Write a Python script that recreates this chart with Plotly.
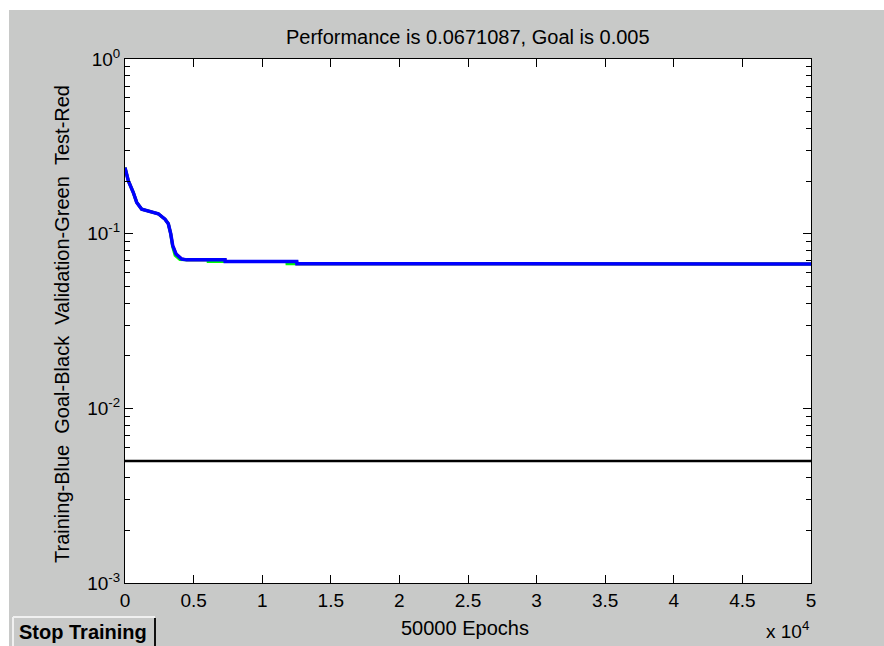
import plotly.graph_objects as go

# ---- data ----
train_epochs = [0, 240, 605, 853, 1217, 1822, 2427, 2915, 3156, 3331, 3477, 3717, 4133, 4497,
                7289, 7300, 12515, 12530, 50000]
train_perf = [0.239, 0.201, 0.172, 0.151, 0.138, 0.134, 0.130, 0.121, 0.114, 0.100, 0.0854, 0.0765,
              0.0716, 0.0708, 0.0708, 0.0692, 0.0692, 0.0672, 0.0671087]

val_epochs = [0, 240, 605, 853, 1217, 1822, 2427, 2915, 3156, 3331, 3477, 3650, 4000, 4497,
              6050, 6060, 11800, 11810, 50000]
val_perf = [0.239, 0.201, 0.172, 0.151, 0.138, 0.134, 0.130, 0.121, 0.114, 0.100, 0.0840, 0.0750,
            0.0712, 0.0708, 0.0708, 0.0692, 0.0692, 0.0672, 0.0671]

test_epochs = train_epochs
test_perf = train_perf

goal_epochs = [0, 50000]
goal_perf = [0.005, 0.005]

x_tickvals = [0, 5000, 10000, 15000, 20000, 25000, 30000, 35000, 40000, 45000, 50000]
x_ticktext = ["0", "0.5", "1", "1.5", "2", "2.5", "3", "3.5", "4", "4.5", "5"]
y_tickvals = [0.001, 0.01, 0.1, 1]
y_ticktext = ["10<sup>-3</sup>", "10<sup>-2</sup>", "10<sup>-1</sup>", "10<sup>0</sup>"]
y_minor = [m * 10 ** e for e in (-3, -2, -1) for m in range(2, 10)]

title_text = "Performance is 0.0671087, Goal is 0.005"
ylabel_text = "Training-Blue\u00a0\u00a0Goal-Black\u00a0\u00a0Validation-Green\u00a0\u00a0Test-Red"
xlabel_text = "50000 Epochs"

# ---- figure ----
GRAY = "#c8c9c8"
FONT = "Liberation Sans, Arial, sans-serif"
W, H = 884, 646
L, R, T, B = 125, 811, 59, 583
pw, ph = R - L, B - T


def px(x):
    return (x - L) / pw


def py(y):
    return (B - y) / ph


fig = go.Figure()
fig.add_trace(go.Scatter(x=test_epochs, y=test_perf, mode="lines",
                         line=dict(color="#ff0000", width=3), showlegend=False))
fig.add_trace(go.Scatter(x=val_epochs, y=val_perf, mode="lines",
                         line=dict(color="#00ff00", width=3), showlegend=False))
fig.add_trace(go.Scatter(x=train_epochs, y=train_perf, mode="lines",
                         line=dict(color="#0000ff", width=3.5), showlegend=False))
fig.add_trace(go.Scatter(x=goal_epochs, y=goal_perf, mode="lines",
                         line=dict(color="#000000", width=2.5), showlegend=False))

fig.update_layout(
    width=W, height=H,
    margin=dict(l=L, r=W - R, t=T, b=H - B, pad=0),
    paper_bgcolor=GRAY, plot_bgcolor="white",
    font=dict(family=FONT, size=19, color="black"),
    showlegend=False,
)
fig.update_xaxes(range=[0, 50000], tickvals=x_tickvals, ticktext=x_ticktext,
                 ticks="inside", ticklen=8, tickwidth=1, tickcolor="black",
                 showline=True, linecolor="black", linewidth=1, mirror="ticks",
                 showgrid=False, zeroline=False, tickfont=dict(size=19))
fig.update_yaxes(type="log", range=[-3, 0], tickvals=y_tickvals, ticktext=y_ticktext,
                 ticks="inside", ticklen=8, tickwidth=1, tickcolor="black",
                 showline=True, linecolor="black", linewidth=1, mirror="ticks",
                 showgrid=False, zeroline=False, tickfont=dict(size=19),
                 minor=dict(tickvals=y_minor, ticks="inside", ticklen=5,
                            tickcolor="black", tickwidth=1, showgrid=False))

shapes = [
    # white margins at top and left
    dict(type="rect", xref="paper", yref="paper", x0=px(-5), x1=px(W + 5), y0=py(10), y1=py(-5),
         fillcolor="white", line=dict(width=0), layer="below"),
    dict(type="rect", xref="paper", yref="paper", x0=px(-5), x1=px(9), y0=py(H + 5), y1=py(-5),
         fillcolor="white", line=dict(width=0), layer="below"),
    # Stop Training button
    dict(type="rect", xref="paper", yref="paper", x0=px(13), x1=px(156), y0=py(650), y1=py(617),
         fillcolor=GRAY, line=dict(width=0), layer="below"),
    dict(type="line", xref="paper", yref="paper", x0=px(13), x1=px(155), y0=py(617), y1=py(617),
         line=dict(color="#f0f0f0", width=2)),
    dict(type="line", xref="paper", yref="paper", x0=px(13), x1=px(13), y0=py(617), y1=py(650),
         line=dict(color="#f0f0f0", width=2)),
    dict(type="line", xref="paper", yref="paper", x0=px(155), x1=px(155), y0=py(618), y1=py(650),
         line=dict(color="#101010", width=2)),
]
fig.update_layout(shapes=shapes)

annotations = [
    dict(text=title_text, x=0.5, y=py(37), xref="paper", yref="paper", showarrow=False,
         xanchor="center", yanchor="middle", font=dict(size=20)),
    dict(text=ylabel_text, x=px(62), y=py(324), xref="paper", yref="paper", showarrow=False,
         xanchor="center", yanchor="middle", textangle=-90, font=dict(size=20)),
    dict(text=xlabel_text, x=px(465), y=py(628), xref="paper", yref="paper", showarrow=False,
         xanchor="center", yanchor="middle", font=dict(size=20)),
    dict(text="x 10<sup>4</sup>", x=px(811), y=py(630), xref="paper", yref="paper",
         showarrow=False, xanchor="right", yanchor="middle", font=dict(size=19)),
    dict(text="<b>Stop Training</b>", x=px(83), y=py(632), xref="paper", yref="paper",
         showarrow=False, xanchor="center", yanchor="middle", font=dict(size=20)),
]
fig.update_layout(annotations=annotations)

fig.write_html("out.html")
